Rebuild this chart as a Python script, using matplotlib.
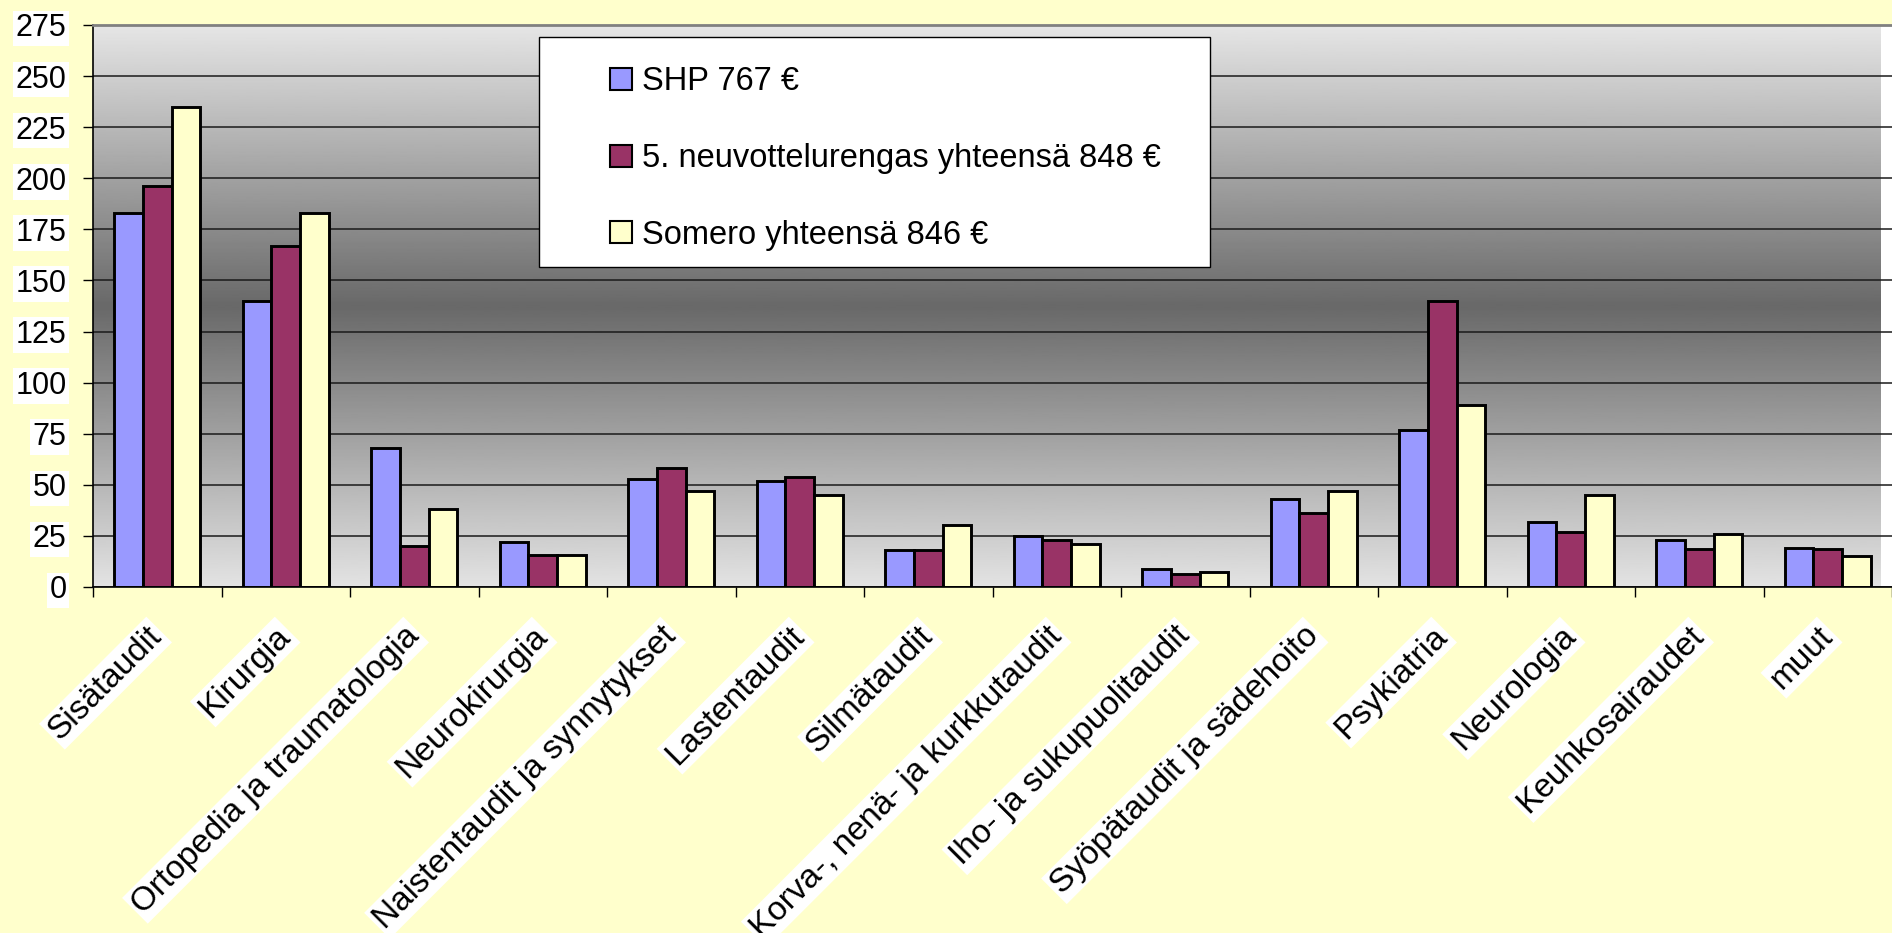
import numpy as np
import matplotlib.pyplot as plt
from matplotlib.patches import Rectangle

plt.rcParams['font.family'] = ['Liberation Sans', 'DejaVu Sans']

categories = ['Sisätaudit', 'Kirurgia', 'Ortopedia ja traumatologia', 'Neurokirurgia',
              'Naistentaudit ja synnytykset', 'Lastentaudit', 'Silmätaudit',
              'Korva-, nenä- ja kurkkutaudit', 'Iho- ja sukupuolitaudit',
              'Syöpätaudit ja sädehoito', 'Psykiatria', 'Neurologia',
              'Keuhkosairaudet', 'muut']
shp = [183, 140, 68, 22, 53, 52, 18, 25, 9, 43, 77, 32, 23, 19]
neuvottelurengas = [196, 167, 20, 15.5, 58, 54, 18, 23, 6.5, 36, 140, 27, 18.5, 18.5]
somero = [235, 183, 38, 15.5, 47, 45, 30.5, 21, 7.5, 47, 89, 45, 26, 15]
series_names = ['SHP 767 €', '5. neuvottelurengas yhteensä 848 €', 'Somero yhteensä 846 €']
series_colors = ['#9999FF', '#993366', '#FFFFCC']
yticks = np.arange(0, 276, 25)

W, H = 1892, 933
fig = plt.figure(figsize=(W / 100, H / 100), dpi=100, facecolor='#FFFFCC')
ax = fig.add_axes([93 / W, 1 - 587 / H, 1 - 93 / W, 562 / H])

x = np.arange(len(categories))
xlim = (-0.5, -0.5 + (W - 93) / 129.3)

# plot area gradient: light at top and bottom, dark in the middle
frac = np.linspace(0, 1, 400)
shade = np.interp(frac, [0, 0.5, 1], [0.90, 0.41, 0.89])
ax.imshow(shade[:, None], extent=[xlim[0], xlim[1], 0, 275], aspect='auto',
          cmap='gray', vmin=0, vmax=1, zorder=0, interpolation='bilinear')

bw = 0.222
for i, (vals, name, col) in enumerate(zip([shp, neuvottelurengas, somero], series_names, series_colors)):
    ax.bar(x + (i - 1) * bw, vals, width=bw, color=col, edgecolor='black',
           linewidth=2.1, label=name, zorder=2)

ax.set_xlim(*xlim)
ax.set_ylim(0, 275)
ax.set_yticks(yticks)
ax.yaxis.grid(True, color='#1a1a1a', linewidth=1.1)
ax.set_axisbelow(True)

ax.set_xticks(x)
ax.set_xticks(np.arange(len(categories) + 1) - 0.5, minor=True)
ax.set_xticklabels(categories, rotation=45, ha='right', va='center',
                   rotation_mode='anchor', fontsize=24)
ax.tick_params(axis='x', which='major', length=0, pad=32)
ax.tick_params(axis='x', which='minor', length=7, width=1, color='black')
ax.tick_params(axis='y', length=7, width=1, color='black', pad=12, labelsize=22)

for lbl in ax.get_xticklabels() + ax.get_yticklabels():
    lbl.set_bbox(dict(facecolor='white', edgecolor='none', pad=2))

ax.spines['right'].set_visible(False)
ax.spines['top'].set_color('#808080')
ax.spines['top'].set_linewidth(2)
ax.spines['left'].set_color('black')
ax.spines['bottom'].set_color('black')
ax.spines['left'].set_linewidth(1.2)
ax.spines['bottom'].set_linewidth(1.2)

# legend box
box = Rectangle((539 / W, 1 - 267 / H), (1210 - 539) / W, (267 - 37) / H,
                transform=fig.transFigure, facecolor='white', edgecolor='black',
                linewidth=1, zorder=4)
ax.add_patch(box)
box.set_clip_on(False)

leg = ax.legend(loc='upper left', bbox_to_anchor=(594 / W, 1 - 50 / H),
                bbox_transform=fig.transFigure, frameon=False, fontsize=23.5,
                handlelength=0.66, handleheight=0.66, handletextpad=0.3,
                labelspacing=1.4, borderpad=0)
leg.set_zorder(6)
for p in leg.get_patches():
    p.set_linewidth(1.5)

fig.savefig('out.png', dpi=100, facecolor=fig.get_facecolor())
